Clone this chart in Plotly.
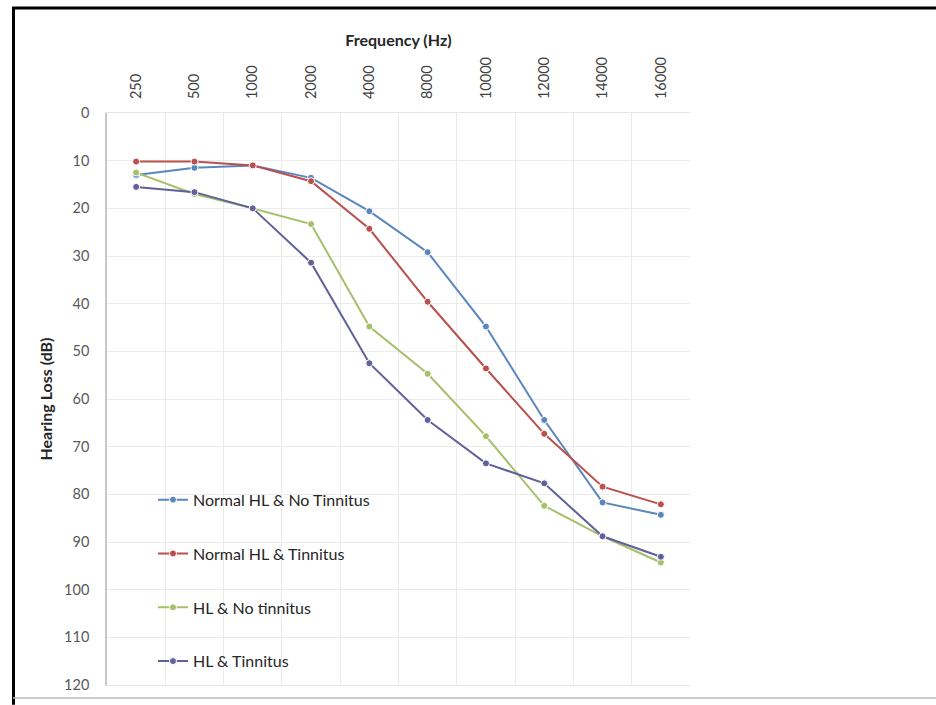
import plotly.graph_objects as go

frequencies = ["250", "500", "1000", "2000", "4000", "8000", "10000", "12000", "14000", "16000"]
normal_no_tinnitus = [13, 11.5, 11, 13.6, 20.6, 29.2, 44.8, 64.4, 81.7, 84.3]
normal_tinnitus = [10.2, 10.2, 11, 14.3, 24.3, 39.6, 53.6, 67.3, 78.4, 82.1]
hl_no_tinnitus = [12.5, 17, 20, 23.3, 44.8, 54.7, 67.8, 82.4, 88.8, 94.3]
hl_tinnitus = [15.5, 16.6, 20, 31.4, 52.5, 64.4, 73.5, 77.7, 88.8, 93.1]

series_names = ["Normal HL & No Tinnitus", "Normal HL & Tinnitus", "HL & No tinnitus", "HL & Tinnitus"]
series_values = [normal_no_tinnitus, normal_tinnitus, hl_no_tinnitus, hl_tinnitus]
series_colors = ["#5B86BD", "#B9504D", "#A6BF6A", "#60609A"]

FONT = "Lato, 'Open Sans', sans-serif"
W, H = 936, 705
L, R, T, B = 107, 690, 113, 690

fig = go.Figure()
for i, (name, vals, col) in enumerate(zip(series_names, series_values, series_colors)):
    fig.add_trace(go.Scatter(
        x=frequencies, y=vals, name=name, mode="lines+markers",
        line=dict(color=col, width=2),
        marker=dict(size=7, color=col, line=dict(color="white", width=1)),
        legendgroup=f"g{i}",
    ))

def px_x(p):
    return (p - L) / (R - L)

def px_y(p):
    return 1 - (p - T) / (B - T)

shapes = [
    dict(type="line", xref="paper", yref="paper", x0=px_x(12), x1=px_x(940), y0=px_y(7), y1=px_y(7),
         line=dict(color="black", width=3)),
    dict(type="line", xref="paper", yref="paper", x0=px_x(13.5), x1=px_x(13.5), y0=px_y(6), y1=px_y(710),
         line=dict(color="black", width=3)),
    dict(type="line", xref="paper", yref="paper", x0=px_x(13), x1=px_x(940), y0=px_y(703), y1=px_y(703),
         line=dict(color="#BBBBBB", width=1.5)),
]

fig.update_layout(
    width=W, height=H,
    margin=dict(l=L, r=W - R, t=T, b=H - B),
    paper_bgcolor="white", plot_bgcolor="white",
    font=dict(family=FONT, color="#404040"),
    shapes=shapes,
    showlegend=True,
    legend=dict(
        x=px_x(153), y=px_y(486), xanchor="left", yanchor="top",
        bgcolor="rgba(0,0,0,0)", tracegroupgap=30,
        font=dict(size=16, color="#262626", family=FONT),
    ),
    xaxis=dict(
        side="top", type="category", tickson="boundaries",
        tickangle=-90, tickfont=dict(size=14.5, color="#404040"),
        ticklabelstandoff=10,
        showgrid=True, gridcolor="#EBEBEB", gridwidth=1,
        ticks="", showline=True, linecolor="#E6E6E6", mirror=True,
        title=dict(text="<b>Frequency (Hz)</b>", font=dict(size=16, color="#262626"), standoff=6),
        range=[-0.5, 9.5],
    ),
    yaxis=dict(
        range=[120, 0], dtick=10, tick0=0,
        tickfont=dict(size=14.5, color="#595959"),
        showgrid=True, gridcolor="#EBEBEB", gridwidth=1,
        zeroline=False, ticks="", ticklabelstandoff=13,
        showline=True, linecolor="#C8C8C8", linewidth=1.5,
        title=dict(text="<b>Hearing Loss (dB)</b>", font=dict(size=16, color="#262626"), standoff=8),
    ),
)

fig.write_html(
    "out.html",
    config={"displayModeBar": False},
    post_script="document.body.style.margin='0';document.body.style.overflow='hidden';",
)
